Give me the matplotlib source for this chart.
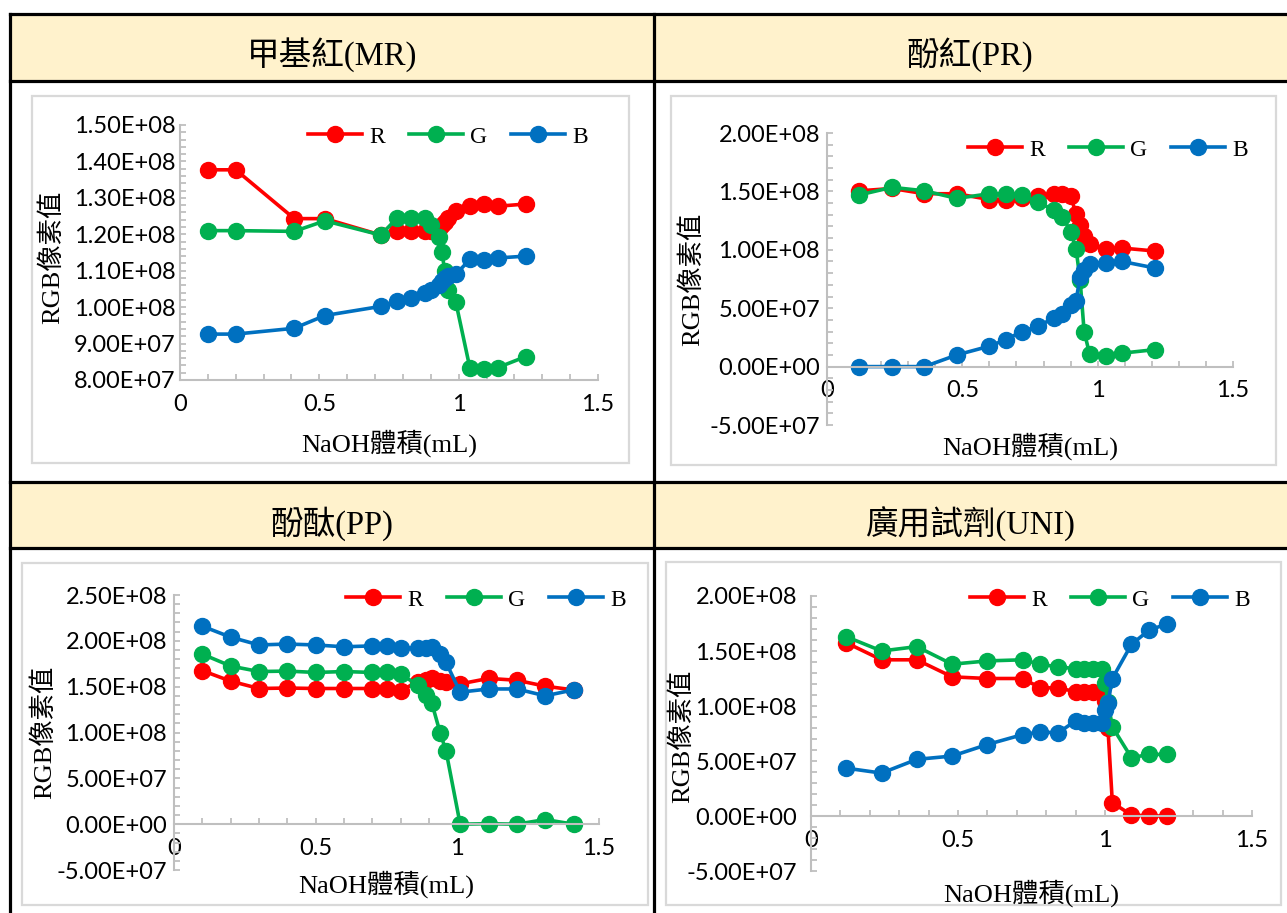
import numpy as np
import matplotlib.pyplot as plt
from matplotlib.patches import Rectangle
from matplotlib.ticker import MultipleLocator, FuncFormatter

W, H = 1287, 913
SCALE = 1e8

# ---- data: NaOH volume (mL) and R/G/B pixel sums (in units of 1e8) ----
mr_x = [0.1, 0.2, 0.41, 0.52, 0.72, 0.78, 0.83, 0.88, 0.9, 0.93, 0.94, 0.95, 0.96, 0.99, 1.04, 1.09, 1.14, 1.24]
mr_r = [1.377, 1.377, 1.243, 1.243, 1.198, 1.21, 1.21, 1.21, 1.21, 1.215, 1.225, 1.235, 1.245, 1.265, 1.277, 1.282, 1.277, 1.283]
mr_g = [1.21, 1.21, 1.208, 1.237, 1.198, 1.245, 1.246, 1.246, 1.225, 1.192, 1.15, 1.10, 1.048, 1.013, 0.834, 0.829, 0.834, 0.864]
mr_b = [0.926, 0.926, 0.942, 0.977, 1.002, 1.017, 1.026, 1.038, 1.048, 1.06, 1.072, 1.08, 1.085, 1.09, 1.131, 1.13, 1.135, 1.14]

pr_x = [0.12, 0.24, 0.36, 0.48, 0.6, 0.66, 0.72, 0.78, 0.84, 0.87, 0.9, 0.92, 0.935, 0.95, 0.97, 1.03, 1.09, 1.21]
pr_r = [1.505, 1.525, 1.48, 1.48, 1.43, 1.43, 1.44, 1.46, 1.48, 1.48, 1.46, 1.31, 1.215, 1.115, 1.05, 1.01, 1.015, 0.99]
pr_g = [1.47, 1.535, 1.505, 1.44, 1.48, 1.48, 1.47, 1.405, 1.34, 1.285, 1.155, 1.01, 0.745, 0.30, 0.11, 0.09, 0.115, 0.145]
pr_b = [0.0, 0.0, 0.0, 0.10, 0.175, 0.23, 0.30, 0.345, 0.42, 0.45, 0.53, 0.56, 0.77, 0.83, 0.88, 0.89, 0.90, 0.845]

pp_x = [0.1, 0.2, 0.3, 0.4, 0.5, 0.6, 0.7, 0.75, 0.8, 0.86, 0.89, 0.91, 0.94, 0.96, 1.01, 1.11, 1.21, 1.31, 1.41]
pp_r = [1.675, 1.56, 1.48, 1.485, 1.48, 1.48, 1.48, 1.48, 1.455, 1.555, 1.57, 1.59, 1.565, 1.555, 1.53, 1.59, 1.57, 1.505, 1.465]
pp_g = [1.855, 1.725, 1.665, 1.67, 1.655, 1.665, 1.655, 1.655, 1.635, 1.52, 1.41, 1.32, 0.99, 0.80, 0.0, 0.005, 0.0, 0.05, 0.0]
pp_b = [2.16, 2.04, 1.955, 1.965, 1.955, 1.935, 1.945, 1.945, 1.92, 1.92, 1.92, 1.93, 1.86, 1.765, 1.44, 1.475, 1.475, 1.40, 1.465]

uni_x = [0.12, 0.24, 0.36, 0.48, 0.6, 0.72, 0.78, 0.84, 0.9, 0.93, 0.96, 0.99, 1.0, 1.01, 1.025, 1.09, 1.15, 1.21]
uni_r = [1.575, 1.42, 1.42, 1.265, 1.25, 1.25, 1.165, 1.165, 1.13, 1.13, 1.13, 1.13, 1.05, 0.80, 0.12, 0.01, 0.0, 0.0]
uni_g = [1.63, 1.50, 1.54, 1.38, 1.41, 1.42, 1.38, 1.355, 1.34, 1.34, 1.34, 1.34, 1.205, 1.04, 0.81, 0.53, 0.56, 0.56]
uni_b = [0.435, 0.39, 0.515, 0.545, 0.65, 0.74, 0.765, 0.755, 0.865, 0.845, 0.85, 0.85, 0.96, 1.025, 1.25, 1.56, 1.69, 1.745]

titles = ["甲基紅(MR)", "酚紅(PR)", "酚酞(PP)", "廣用試劑(UNI)"]

SERIF = ["Liberation Serif", "Noto Sans CJK TC"]
TICKFONT = "Lato"
colors = {"R": "#FF0000", "G": "#00B050", "B": "#0070C0"}
AXCOL = "#BFBFBF"

fig = plt.figure(figsize=(W / 100, H / 100), dpi=100)

# background "table" drawn in pixel coordinates
bg = fig.add_axes([0, 0, 1, 1])
bg.set_xlim(0, W)
bg.set_ylim(H, 0)
bg.axis("off")

for top, bot in [(14, 81), (482, 548)]:
    bg.add_patch(Rectangle((10, top), W, bot - top, fc="#FFF2CC", ec="none"))
for yy in [14, 81, 482, 548]:
    bg.plot([10, W + 5], [yy, yy], color="black", lw=2.3, solid_capstyle="projecting")
for xx in [10, 654]:
    bg.plot([xx, xx], [14, H + 5], color="black", lw=2.3, solid_capstyle="projecting")

# light grey chart frames
for (l, t, r, b) in [(32, 96, 629, 463), (671, 96, 1276, 465), (22, 563, 648, 905), (666, 562, 1281, 905)]:
    bg.add_patch(Rectangle((l, t), r - l, b - t, fill=False, ec="#D9D9D9", lw=1.6))

title_pos = [(332, 55), (970, 55), (332, 524), (970, 524)]
for (tx, ty), t in zip(title_pos, titles):
    bg.text(tx, ty, t, ha="center", va="center", fontsize=23.5, family=SERIF)

sci = FuncFormatter(lambda v, p: f"{v:.2E}")
plain = FuncFormatter(lambda v, p: f"{v:g}")


def chart(px, x, r, g, b, ylim, ymaj, ymin, zero_axis, xlab_y, ylab_x, ylab_y, leg, ypad):
    l, rr, t, bt = px
    ax = fig.add_axes([l / W, 1 - bt / H, (rr - l) / W, (bt - t) / H])
    ax.patch.set_alpha(0)
    xv = np.array(x)
    for name, vals in [("R", r), ("G", g), ("B", b)]:
        ax.plot(xv, np.array(vals) * SCALE, color=colors[name], marker="o", ms=11.5,
                lw=2.6, label=name, clip_on=False)
    ax.set_xlim(0, 1.5)
    ax.set_ylim(*ylim)
    ax.xaxis.set_major_locator(MultipleLocator(0.5))
    ax.xaxis.set_minor_locator(MultipleLocator(0.1))
    ax.yaxis.set_major_locator(MultipleLocator(ymaj))
    ax.yaxis.set_minor_locator(MultipleLocator(ymin))
    ax.xaxis.set_major_formatter(plain)
    ax.yaxis.set_major_formatter(sci)
    for s in ["top", "right"]:
        ax.spines[s].set_visible(False)
    for s in ["left", "bottom"]:
        ax.spines[s].set_color(AXCOL)
        ax.spines[s].set_linewidth(1.5)
    if zero_axis:
        ax.spines["bottom"].set_position(("data", 0))
    ax.tick_params(which="both", direction="in", color=AXCOL, width=1.3, length=4.5)
    ax.tick_params(axis="x", pad=10, labelsize=17)
    ax.tick_params(axis="y", pad=ypad, labelsize=17)
    for lab in ax.get_xticklabels() + ax.get_yticklabels():
        lab.set_fontfamily(TICKFONT)
    ax.set_xlabel("NaOH體積(mL)", family=SERIF, fontsize=19, va="center")
    ax.set_ylabel("RGB像素值", family=SERIF, fontsize=19, va="center")
    ax.xaxis.set_label_coords(0.5, xlab_y)
    ax.yaxis.set_label_coords(ylab_x, ylab_y)
    ax.legend(ncol=3, loc="center right", bbox_to_anchor=leg, bbox_transform=bg.transData,
              frameon=False, prop={"family": SERIF, "size": 17}, handlelength=2.3,
              handletextpad=0.3, columnspacing=1.0, borderpad=0, borderaxespad=0, numpoints=1)
    return ax


chart((180, 598, 125, 380), mr_x, mr_r, mr_g, mr_b, (0.8e8, 1.5e8), 1e7, 2e6, False,
      -0.247, -0.306, 0.482, (588, 137), 3)
chart((827, 1233, 133, 425), pr_x, pr_r, pr_g, pr_b, (-0.5e8, 2.0e8), 5e7, 1e7, True,
      -0.072, -0.333, 0.5, (1248, 150), 5)
chart((174, 599, 595, 870), pp_x, pp_r, pp_g, pp_b, (-0.5e8, 2.5e8), 5e7, 1e7, True,
      -0.051, -0.306, 0.5, (626, 600), 5)
chart((811, 1252, 596, 871), uni_x, uni_r, uni_g, uni_b, (-0.5e8, 2.0e8), 5e7, 1e7, True,
      -0.08, -0.293, 0.49, (1250, 600), 10)

fig.savefig("out.png", dpi=100)
